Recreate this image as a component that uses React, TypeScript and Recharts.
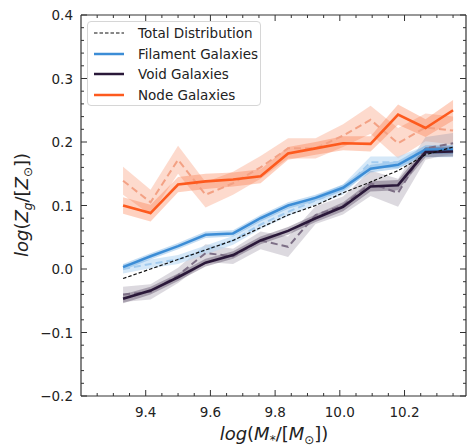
import React from 'react';
import { ComposedChart, Area, Line, XAxis, YAxis } from 'recharts';

// stellar mass bins, log(M*/Msun)
const massBins = [9.33, 9.415, 9.5, 9.585, 9.67, 9.755, 9.84, 9.925, 10.01, 10.095, 10.18, 10.265, 10.35];

const totalZ = [-0.015, 0.0, 0.015, 0.03, 0.045, 0.065, 0.085, 0.1, 0.12, 0.137, 0.155, 0.18, 0.192];

const filamentZ = [0.003, 0.02, 0.036, 0.054, 0.056, 0.08, 0.1, 0.112, 0.128, 0.158, 0.164, 0.188, 0.188];
const filamentErr = [0.005, 0.005, 0.005, 0.005, 0.005, 0.005, 0.005, 0.005, 0.005, 0.006, 0.006, 0.007, 0.007];
const filamentAltZ = [0.0, 0.008, 0.015, 0.03, 0.045, 0.07, 0.09, 0.108, 0.125, 0.168, 0.168, 0.185, 0.185];
const filamentAltErr = [0.007, 0.007, 0.007, 0.007, 0.007, 0.007, 0.007, 0.007, 0.008, 0.009, 0.009, 0.009, 0.009];

const voidZ = [-0.047, -0.034, -0.013, 0.01, 0.022, 0.045, 0.06, 0.08, 0.098, 0.13, 0.132, 0.184, 0.185];
const voidErr = [0.007, 0.006, 0.006, 0.006, 0.006, 0.006, 0.006, 0.006, 0.007, 0.008, 0.008, 0.008, 0.008];
const voidAltZ = [-0.04, -0.036, -0.01, 0.025, 0.02, 0.045, 0.035, 0.085, 0.1, 0.135, 0.12, 0.19, 0.198];
const voidAltErr = [0.012, 0.012, 0.012, 0.014, 0.012, 0.014, 0.016, 0.014, 0.014, 0.02, 0.022, 0.018, 0.016];

const nodeZ = [0.1, 0.088, 0.133, 0.138, 0.141, 0.146, 0.182, 0.19, 0.198, 0.197, 0.243, 0.222, 0.25];
const nodeErr = [0.013, 0.013, 0.012, 0.012, 0.011, 0.011, 0.01, 0.01, 0.011, 0.012, 0.016, 0.014, 0.016];
const nodeAltZ = [0.139, 0.105, 0.172, 0.117, 0.135, 0.16, 0.19, 0.19, 0.21, 0.235, 0.198, 0.223, 0.218];
const nodeAltErr = [0.022, 0.02, 0.022, 0.02, 0.018, 0.018, 0.016, 0.016, 0.018, 0.022, 0.024, 0.022, 0.022];

const xMajorTicks = [9.4, 9.6, 9.8, 10.0, 10.2];
const xTicks = [9.25, 9.3, 9.35, 9.4, 9.45, 9.5, 9.55, 9.6, 9.65, 9.7, 9.75, 9.8, 9.85, 9.9, 9.95, 10.0, 10.05, 10.1, 10.15, 10.2, 10.25, 10.3, 10.35];
const yMajorTicks = [-0.2, -0.1, 0.0, 0.1, 0.2, 0.3, 0.4];
const yTicks = [
  -0.2, -0.18, -0.16, -0.14, -0.12, -0.1, -0.08, -0.06, -0.04, -0.02,
  0.0, 0.02, 0.04, 0.06, 0.08, 0.1, 0.12, 0.14, 0.16, 0.18,
  0.2, 0.22, 0.24, 0.26, 0.28, 0.3, 0.32, 0.34, 0.36, 0.38, 0.4,
];

const legendItems = [
  { name: 'Total Distribution', color: '#111', dashed: true },
  { name: 'Filament Galaxies', color: '#3c8dd6', dashed: false },
  { name: 'Void Galaxies', color: '#2a1839', dashed: false },
  { name: 'Node Galaxies', color: '#fd5a1e', dashed: false },
];

const band = (v: number[], e: number[], i: number) => [v[i] - e[i], v[i] + e[i]];

const rows = massBins.map((x, i) => ({
  x,
  total: totalZ[i],
  fil: filamentZ[i],
  filBand: band(filamentZ, filamentErr, i),
  filAlt: filamentAltZ[i],
  filAltBand: band(filamentAltZ, filamentAltErr, i),
  vd: voidZ[i],
  vdBand: band(voidZ, voidErr, i),
  vdAlt: voidAltZ[i],
  vdAltBand: band(voidAltZ, voidAltErr, i),
  node: nodeZ[i],
  nodeBand: band(nodeZ, nodeErr, i),
  nodeAlt: nodeAltZ[i],
  nodeAltBand: band(nodeAltZ, nodeAltErr, i),
}));

const FONT = '"DejaVu Sans", sans-serif';
const AXIS = '#333';

const isMajor = (list: number[], v: number) => list.some(m => Math.abs(m - v) < 1e-6);
const fmt = (v: number) => (v < -1e-9 ? '\u2212' + Math.abs(v).toFixed(1) : Math.abs(v).toFixed(1));

const BottomTick = ({ x, y, payload }: any) => {
  const major = isMajor(xMajorTicks, payload.value);
  return (
    <g>
      <line x1={x} x2={x} y1={y} y2={y - (major ? 6 : 3)} stroke={AXIS} strokeWidth={1} />
      {major && (
        <text x={x} y={y + 21} textAnchor="middle" fontSize={13.5} fontFamily={FONT} fill="#222">
          {fmt(payload.value)}
        </text>
      )}
    </g>
  );
};

const TopTick = ({ x, y, payload }: any) => {
  const major = isMajor(xMajorTicks, payload.value);
  return <line x1={x} x2={x} y1={y} y2={y + (major ? 6 : 3)} stroke={AXIS} strokeWidth={1} />;
};

const LeftTick = ({ x, y, payload }: any) => {
  const major = isMajor(yMajorTicks, payload.value);
  return (
    <g>
      <line x1={x} x2={x + (major ? 6 : 3)} y1={y} y2={y} stroke={AXIS} strokeWidth={1} />
      {major && (
        <text x={x - 8} y={y + 5} textAnchor="end" fontSize={13.5} fontFamily={FONT} fill="#222">
          {fmt(payload.value)}
        </text>
      )}
    </g>
  );
};

const RightTick = ({ x, y, payload }: any) => {
  const major = isMajor(yMajorTicks, payload.value);
  return <line x1={x} x2={x - (major ? 6 : 3)} y1={y} y2={y} stroke={AXIS} strokeWidth={1} />;
};

const LegendBox = () => (
  <div
    style={{
      position: 'absolute', left: 87, top: 21, width: 174, height: 85,
      border: '1px solid #d6d6d6', borderRadius: 4, background: 'rgba(255,255,255,0.85)',
      fontFamily: FONT, fontSize: 13.5, color: '#222', boxSizing: 'border-box',
    }}
  >
    {legendItems.map((item, i) => (
      <div key={item.name} style={{ position: 'absolute', left: 5, top: 1 + i * 20.7, height: 20, display: 'flex', alignItems: 'center' }}>
        <svg width={32} height={6} style={{ marginRight: 13 }}>
          <line x1={1} x2={31} y1={3} y2={3} stroke={item.color}
            strokeWidth={item.dashed ? 1.2 : 2.5} strokeDasharray={item.dashed ? '3.5 2' : undefined} />
        </svg>
        <span style={{ whiteSpace: 'nowrap' }}>{item.name}</span>
      </div>
    ))}
  </div>
);

const AxisTitles = () => (
  <svg width={467} height={446} style={{ position: 'absolute', left: 0, top: 0, pointerEvents: 'none' }}>
    <text transform="translate(28,205) rotate(-90)" textAnchor="middle" fontSize={18} fontFamily={FONT} fill="#222">
      <tspan fontStyle="italic">log</tspan>(<tspan fontStyle="italic">Z</tspan>
      <tspan fontStyle="italic" fontSize={12} dy={4}>g</tspan>
      <tspan dy={-4}>/[</tspan><tspan fontStyle="italic">Z</tspan>
      <tspan fontSize={12} dy={4}>⊙</tspan>
      <tspan dy={-4}>])</tspan>
    </text>
    <text x={274} y={440} textAnchor="middle" fontSize={18} fontFamily={FONT} fill="#222">
      <tspan fontStyle="italic">log</tspan>(<tspan fontStyle="italic">M</tspan>
      <tspan fontStyle="italic" fontSize={12} dy={4}>*</tspan>
      <tspan dy={-4}>/[</tspan><tspan fontStyle="italic">M</tspan>
      <tspan fontSize={12} dy={4}>⊙</tspan>
      <tspan dy={-4}>])</tspan>
    </text>
  </svg>
);

export default function App() {
  const common = { xAxisId: 'b', yAxisId: 'l', isAnimationActive: false, type: 'linear' as const, dot: false, activeDot: false };
  return (
    <div style={{ position: 'absolute', left: 0, top: 0, width: 467, height: 446, background: '#fff' }}>
      <ComposedChart width={467} height={446} data={rows} margin={{ top: 14, right: 0, left: 0, bottom: 0 }}>
        <XAxis xAxisId="b" dataKey="x" type="number" domain={[9.2, 10.39]} allowDataOverflow
          ticks={xTicks} interval={0} tick={<BottomTick />} tickLine={false} tickSize={0} tickMargin={0}
          height={50} axisLine={{ stroke: AXIS, strokeWidth: 1.2 }} />
        <XAxis xAxisId="t" orientation="top" dataKey="x" type="number" domain={[9.2, 10.39]} allowDataOverflow
          ticks={xTicks} interval={0} tick={<TopTick />} tickLine={false} tickSize={0} tickMargin={0}
          height={1} axisLine={{ stroke: AXIS, strokeWidth: 1.2 }} />
        <YAxis yAxisId="l" type="number" domain={[-0.2, 0.4]} allowDataOverflow ticks={yTicks} interval={0}
          tick={<LeftTick />} tickLine={false} tickSize={0} tickMargin={0} width={81}
          axisLine={{ stroke: AXIS, strokeWidth: 1.2 }} />
        <YAxis yAxisId="r" orientation="right" type="number" domain={[-0.2, 0.4]} allowDataOverflow ticks={yTicks}
          interval={0} tick={<RightTick />} tickLine={false} tickSize={0} tickMargin={0} width={1}
          axisLine={{ stroke: AXIS, strokeWidth: 1.2 }} />

        <Area {...common} dataKey="nodeAltBand" stroke="none" fill="#fbb59b" fillOpacity={0.5} />
        <Area {...common} dataKey="vdAltBand" stroke="none" fill="#a79fae" fillOpacity={0.4} />
        <Area {...common} dataKey="filAltBand" stroke="none" fill="#b9d9f3" fillOpacity={0.6} />
        <Area {...common} dataKey="nodeBand" stroke="none" fill="#fd5a1e" fillOpacity={0.28} />
        <Area {...common} dataKey="filBand" stroke="none" fill="#3c8dd6" fillOpacity={0.3} />
        <Area {...common} dataKey="vdBand" stroke="none" fill="#2a1839" fillOpacity={0.3} />

        <Line {...common} dataKey="nodeAlt" stroke="#f3a184" strokeWidth={2} strokeDasharray="7 4" />
        <Line {...common} dataKey="vdAlt" stroke="#7d6f86" strokeWidth={2} strokeDasharray="7 4" />
        <Line {...common} dataKey="filAlt" stroke="#a2cbef" strokeWidth={2} strokeDasharray="7 4" />

        <Line {...common} dataKey="node" stroke="#fd5a1e" strokeWidth={2.6} />
        <Line {...common} dataKey="fil" stroke="#3c8dd6" strokeWidth={2.6} />
        <Line {...common} dataKey="vd" stroke="#2a1839" strokeWidth={2.6} />
        <Line {...common} dataKey="total" stroke="#111" strokeWidth={1.2} strokeDasharray="3.5 2" />
      </ComposedChart>
      <AxisTitles />
      <LegendBox />
    </div>
  );
}
